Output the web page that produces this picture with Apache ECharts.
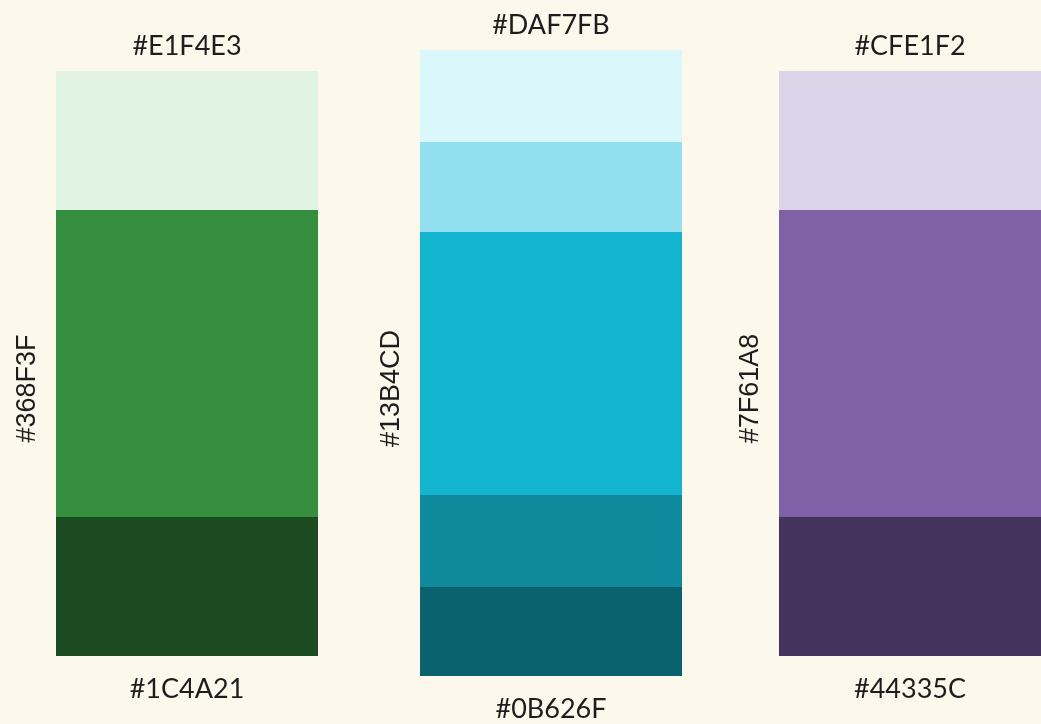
<!DOCTYPE html>
<html>
<head>
<meta charset="utf-8">
<script src="https://cdn.jsdelivr.net/npm/echarts@6/dist/echarts.min.js"></script>
<style>
html,body{margin:0;padding:0;background:#FDF8EC;}
#chart{width:1041px;height:724px;}
</style>
</head>
<body>
<div id="chart"></div>
<script>
// Segment sizes, bottom to top, per palette column
const greenValues  = [139, 307, 139];
const cyanValues   = [89, 92, 263, 90, 92];
const purpleValues = [139, 307, 139];

// Segment colours, bottom to top
const greenColors  = ['#1C4A21', '#368F3F', '#E1F4E3'];
const cyanColors   = ['#0B626F', '#0F8A9C', '#13B4CD', '#92E0EF', '#DAF7FB'];
const purpleColors = ['#44335C', '#7F61A8', '#DCD5EA'];

// Labels: [top, side, bottom]
const greenLabels  = ['#E1F4E3', '#368F3F', '#1C4A21'];
const cyanLabels   = ['#DAF7FB', '#13B4CD', '#0B626F'];
const purpleLabels = ['#CFE1F2', '#7F61A8', '#44335C'];

const columns = [
  {values: greenValues,  colors: greenColors,  labels: greenLabels,  side: 1},
  {values: cyanValues,   colors: cyanColors,   labels: cyanLabels,   side: 2},
  {values: purpleValues, colors: purpleColors, labels: purpleLabels, side: 1}
];

const grids = [
  {left: 56,  width: 262, top: 71, bottom: 68},
  {left: 420, width: 262, top: 50, bottom: 48},
  {left: 779, width: 262, top: 71, bottom: 68}
];

const textColor = '#1d1d1d';
const topBottomFont = 'Lato, "Open Sans", sans-serif';
const sideFont = '"Liberation Sans", Arial, sans-serif';

const xAxis = [], yAxis = [], series = [];
columns.forEach((col, ci) => {
  const total = col.values.reduce((a, b) => a + b, 0);
  xAxis.push({type: 'category', gridIndex: ci, data: ['c'], show: false});
  yAxis.push({type: 'value', gridIndex: ci, min: 0, max: total, show: false});
  const n = col.values.length;
  col.values.forEach((v, si) => {
    let label = {show: false};
    if (si === n - 1) {
      label = {show: true, position: 'top', distance: 11, formatter: col.labels[0],
               color: textColor, fontSize: 27, fontFamily: topBottomFont};
    }
    if (si === 0) {
      label = {show: true, position: 'bottom', distance: 20, formatter: col.labels[2],
               color: textColor, fontSize: 27, fontFamily: topBottomFont};
    }
    if (si === col.side) {
      label = {show: true, position: [-28, '50%'], align: 'center', verticalAlign: 'middle',
               rotate: 90, offset: [-25, 0], formatter: col.labels[1],
               color: textColor, fontSize: 27, fontFamily: sideFont};
    }
    series.push({
      type: 'bar',
      xAxisIndex: ci, yAxisIndex: ci,
      stack: 'col' + ci,
      barWidth: '100%',
      data: [v],
      itemStyle: {color: col.colors[si]},
      label: label,
      silent: true,
      animation: false
    });
  });
});

const chart = echarts.init(document.getElementById('chart'));
chart.setOption({
  backgroundColor: '#FDF8EC',
  animation: false,
  grid: grids,
  xAxis: xAxis,
  yAxis: yAxis,
  series: series
});
</script>
</body>
</html>
